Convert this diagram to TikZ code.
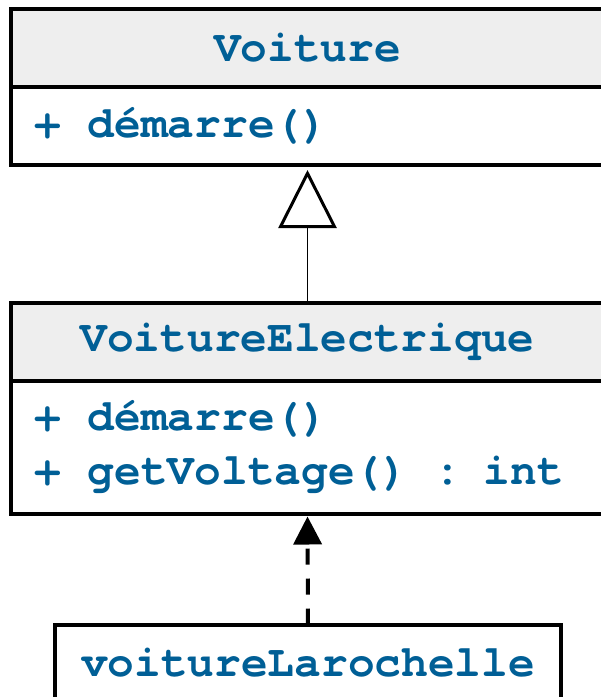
\documentclass[tikz,border=0pt]{standalone}
\usepackage{fontspec}
\setmonofont{TeX Gyre Cursor}
\usetikzlibrary{arrows.meta}
\definecolor{txt}{HTML}{005F96}
\definecolor{hdrfill}{HTML}{EEEEEE}
\tikzset{
  umlbox/.style={draw=black, line width=4pt, outer sep=0pt, inner ysep=0pt,
    font=\ttfamily\bfseries\fontsize{44.5}{54}\selectfont, text=txt,
    execute at begin node={\spaceskip=26.7pt\relax}},
  hdrbox/.style={umlbox, fill=hdrfill, inner xsep=0pt, minimum width=593pt, minimum height=78pt},
  bodybox/.style={umlbox, fill=white, text width=546pt, inner xsep=23.5pt, align=left, minimum height=#1},
  inherit/.style={line width=1.5pt, -{Triangle[open, width=58pt, length=58pt, line width=3pt, fill=white]}, shorten >=5pt},
  instof/.style={line width=4pt, dash pattern=on 16pt off 14pt, -{Triangle[width=28pt, length=28pt]}, shorten >=3pt}
}
\begin{document}
\begin{tikzpicture}[x=1pt, y=-1pt]
  \useasboundingbox (0,0) rectangle (601,697);
  \clip (0,0) rectangle (601,697);
  % Voiture
  \node[hdrbox, anchor=north west] (vh) at (11,9) {Voiture};
  \node[bodybox=78pt, anchor=north west] (vb) at (vh.south west) {+ démarre()};
  % VoitureElectrique
  \node[hdrbox, anchor=north west] (veh) at (11,303) {VoitureElectrique};
  \node[bodybox=132.5pt, anchor=north west] (veb) at (veh.south west) {+ démarre()\\+ getVoltage() : int};
  % voitureLarochelle
  \node[umlbox, fill=white, inner xsep=0pt, minimum width=506pt, minimum height=77pt, anchor=north west] (vl) at (55,624.5) {voitureLarochelle};
  % connectors
  \draw[inherit] (veh.north) -- (vb.south);
  \draw[instof] (vl.north) -- (veb.south);
\end{tikzpicture}
\end{document}
